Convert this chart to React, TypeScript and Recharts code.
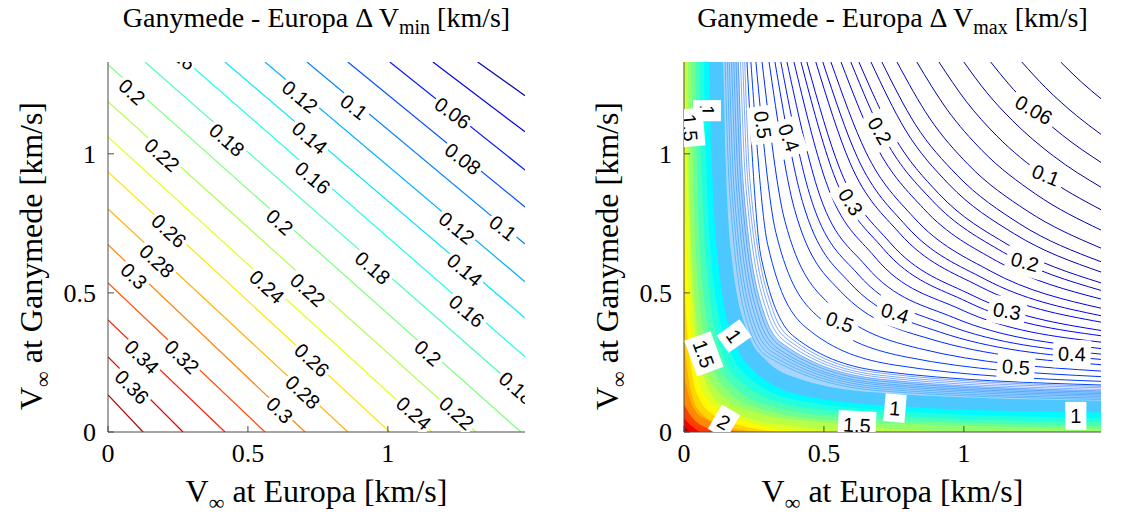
import React from 'react';
import { ComposedChart, XAxis, YAxis, Line, Area, Scatter } from 'recharts';

const X_MAX = 1.49;
const Y_MAX = 1.33;
const xTicks = [0, 0.5, 1];
const yTicks = [0, 0.5, 1];

// left panel (dV min): contour levels and where each one crosses the box
const minLevels = [0.02, 0.04, 0.06, 0.08, 0.1, 0.12, 0.14, 0.16, 0.18, 0.2, 0.22, 0.24, 0.26, 0.28, 0.3, 0.32, 0.34, 0.36, 0.38];
const minContours = [
  [[1.321, 1.33], [1.49, 1.209]],
  [[1.161, 1.33], [1.49, 1.079]],
  [[1.007, 1.33], [1.49, 0.942]],
  [[0.857, 1.33], [1.49, 0.809]],
  [[0.711, 1.33], [1.49, 0.676]],
  [[0.561, 1.33], [1.49, 0.54]],
  [[0.418, 1.33], [1.49, 0.41]],
  [[0.282, 1.33], [1.49, 0.27]],
  [[0.132, 1.33], [1.49, 0.133]],
  [[0, 1.32], [1.475, 0]],
  [[0, 1.187], [1.314, 0]],
  [[0, 1.061], [1.157, 0]],
  [[0, 0.935], [1.007, 0]],
  [[0, 0.802], [0.857, 0]],
  [[0, 0.673], [0.704, 0]],
  [[0, 0.536], [0.561, 0]],
  [[0, 0.403], [0.418, 0]],
  [[0, 0.27], [0.268, 0]],
  [[0, 0.133], [0.125, 0]],
];
const minLabels: [string, number, number, number][] = [
  ['0.2', 0.086, 1.223, 42], ['0.22', 0.193, 0.996, 42], ['0.18', 0.425, 1.05, 41],
  ['0.12', 0.686, 1.205, 39], ['0.1', 0.879, 1.169, 38], ['0.06', 1.232, 1.147, 36],
  ['0.14', 0.721, 1.058, 40], ['0.16', 0.732, 0.914, 40], ['0.08', 1.268, 0.982, 37],
  ['0.2', 0.614, 0.755, 41], ['0.26', 0.218, 0.723, 43], ['0.28', 0.175, 0.615, 43],
  ['0.3', 0.093, 0.561, 44], ['0.24', 0.568, 0.522, 42], ['0.22', 0.714, 0.511, 42],
  ['0.18', 0.946, 0.59, 41], ['0.12', 1.246, 0.734, 39], ['0.1', 1.411, 0.734, 38],
  ['0.14', 1.275, 0.583, 40], ['0.16', 1.282, 0.435, 40], ['0.2', 1.143, 0.284, 41],
  ['0.34', 0.121, 0.27, 45], ['0.32', 0.264, 0.27, 44], ['0.36', 0.086, 0.162, 45],
  ['0.26', 0.729, 0.259, 43], ['0.28', 0.696, 0.144, 43], ['0.3', 0.614, 0.079, 44],
  ['0.24', 1.093, 0.068, 42], ['0.22', 1.246, 0.068, 42], ['0.18', 1.46, 0.158, 41],
  ['0.16', 0.25, 1.36, 40],
];

// right panel (dV max): line contours, outermost first
const maxLevels = [
  0.02, 0.04, 0.06, 0.08, 0.1, 0.12, 0.14, 0.16, 0.18, 0.2, 0.22, 0.24, 0.26, 0.28, 0.3, 0.32, 0.34, 0.36,
  0.38, 0.4, 0.42, 0.44, 0.46, 0.48, 0.5, 0.52, 0.54, 0.56, 0.58, 0.6, 0.62, 0.64, 0.66, 0.68, 0.7, 0.72,
];
const maxContours = [
  [[1.346, 1.33], [1.365, 1.311], [1.421, 1.257], [1.49, 1.198]],
  [[1.207, 1.33], [1.292, 1.238], [1.403, 1.137], [1.49, 1.07]],
  [[1.096, 1.33], [1.16, 1.251], [1.229, 1.177], [1.352, 1.067], [1.49, 0.969]],
  [[1.0, 1.33], [1.082, 1.22], [1.173, 1.12], [1.32, 0.992], [1.49, 0.88]],
  [[0.911, 1.33], [1.008, 1.189], [1.118, 1.064], [1.288, 0.92], [1.49, 0.799]],
  [[0.832, 1.33], [0.94, 1.159], [1.065, 1.012], [1.257, 0.855], [1.49, 0.726]],
  [[0.761, 1.33], [0.877, 1.129], [1.015, 0.962], [1.226, 0.795], [1.49, 0.661]],
  [[0.707, 1.33], [0.827, 1.105], [0.976, 0.923], [1.2, 0.748], [1.49, 0.612]],
  [[0.668, 1.33], [0.791, 1.086], [0.945, 0.892], [1.181, 0.712], [1.49, 0.575]],
  [[0.625, 1.33], [0.75, 1.064], [0.91, 0.857], [1.158, 0.673], [1.49, 0.536]],
  [[0.596, 1.33], [0.721, 1.048], [0.886, 0.833], [1.141, 0.646], [1.49, 0.509]],
  [[0.561, 1.33], [0.687, 1.028], [0.856, 0.803], [1.12, 0.613], [1.49, 0.478]],
  [[0.525, 1.33], [0.65, 1.006], [0.822, 0.77], [1.096, 0.578], [1.49, 0.445]],
  [[0.496, 1.33], [0.62, 0.986], [0.794, 0.741], [1.076, 0.549], [1.49, 0.418]],
  [[0.471, 1.33], [0.593, 0.968], [0.769, 0.716], [1.057, 0.523], [1.49, 0.395]],
  [[0.439, 1.33], [0.558, 0.943], [0.735, 0.682], [1.033, 0.49], [1.49, 0.365]],
  [[0.418, 1.33], [0.535, 0.926], [0.712, 0.659], [1.014, 0.467], [1.49, 0.346]],
  [[0.393, 1.33], [0.506, 0.903], [0.682, 0.629], [0.99, 0.44], [1.49, 0.323]],
  [[0.368, 1.33], [0.476, 0.878], [0.65, 0.597], [0.964, 0.411], [1.49, 0.3]],
  [[0.346, 1.33], [0.449, 0.854], [0.621, 0.568], [0.939, 0.385], [1.49, 0.28]],
  [[0.325, 1.33], [0.423, 0.829], [0.591, 0.538], [0.912, 0.36], [1.49, 0.261]],
  [[0.304, 1.33], [0.395, 0.8], [0.559, 0.506], [0.881, 0.334], [1.49, 0.242]],
  [[0.279, 1.33], [0.36, 0.76], [0.516, 0.463], [0.841, 0.3], [1.49, 0.219]],
  [[0.257, 1.33], [0.328, 0.718], [0.473, 0.42], [0.797, 0.269], [1.49, 0.199]],
  [[0.239, 1.33], [0.299, 0.674], [0.432, 0.379], [0.751, 0.241], [1.49, 0.182]],
  [[0.225, 1.33], [0.275, 0.631], [0.394, 0.342], [0.707, 0.218], [1.49, 0.169]],
  [[0.217, 1.33], [0.236, 0.9], [0.319, 0.433], [0.385, 0.335], [0.7, 0.212], [1.49, 0.164]],
  [[0.21, 1.33], [0.228, 0.9], [0.309, 0.429], [0.376, 0.328], [0.7, 0.204], [1.49, 0.159]],
  [[0.202, 1.33], [0.22, 0.9], [0.299, 0.424], [0.367, 0.321], [0.7, 0.197], [1.49, 0.153]],
  [[0.194, 1.33], [0.211, 0.9], [0.288, 0.42], [0.357, 0.314], [0.7, 0.19], [1.49, 0.148]],
  [[0.186, 1.33], [0.203, 0.9], [0.278, 0.416], [0.347, 0.307], [0.7, 0.183], [1.49, 0.143]],
  [[0.178, 1.33], [0.194, 0.9], [0.267, 0.411], [0.337, 0.299], [0.7, 0.175], [1.49, 0.138]],
  [[0.17, 1.33], [0.186, 0.9], [0.257, 0.407], [0.328, 0.293], [0.7, 0.169], [1.49, 0.133]],
  [[0.162, 1.33], [0.177, 0.9], [0.246, 0.403], [0.318, 0.286], [0.7, 0.162], [1.49, 0.128]],
  [[0.155, 1.33], [0.169, 0.9], [0.237, 0.398], [0.309, 0.278], [0.7, 0.155], [1.49, 0.122]],
  [[0.147, 1.33], [0.161, 0.9], [0.226, 0.394], [0.299, 0.271], [0.7, 0.148], [1.49, 0.117]],
];

// right panel: contours packed against the axes, drawn as filled levels
const maxFillLevels = [0.7, 0.8, 1.0, 1.1, 1.2, 1.3, 1.4, 1.5, 1.6, 1.7, 1.8, 1.9, 2.0, 2.2, 2.4, 2.6];
const maxFills = [
  [[0, 1.33], [0.194, 1.33], [0.211, 0.9], [0.288, 0.42], [0.357, 0.314], [0.7, 0.19], [1.49, 0.148]],
  [[0, 1.33], [0.139, 1.33], [0.148, 1.0], [0.175, 0.59], [0.235, 0.34], [0.288, 0.263], [0.415, 0.19], [0.715, 0.14], [1.49, 0.112]],
  [[0, 1.33], [0.088, 1.33], [0.098, 1.0], [0.132, 0.53], [0.18, 0.33], [0.245, 0.225], [0.43, 0.13], [0.81, 0.09], [1.49, 0.07]],
  [[0, 1.33], [0.07, 1.33], [0.078, 1.0], [0.108, 0.524], [0.172, 0.274], [0.221, 0.206], [0.407, 0.114], [0.773, 0.075], [1.49, 0.05]],
  [[0, 1.33], [0.054, 1.33], [0.061, 1.0], [0.088, 0.518], [0.142, 0.268], [0.198, 0.185], [0.38, 0.098], [0.73, 0.06], [1.49, 0.035]],
  [[0, 1.33], [0.039, 1.33], [0.045, 1.0], [0.068, 0.512], [0.116, 0.262], [0.175, 0.167], [0.32, 0.09], [0.62, 0.05], [1.49, 0.022]],
  [[0, 1.33], [0.026, 1.33], [0.031, 1.0], [0.052, 0.506], [0.094, 0.256], [0.155, 0.151], [0.273, 0.084], [0.535, 0.042], [1.49, 0.013]],
  [[0, 1.33], [0.0135, 1.33], [0.018, 1.0], [0.036, 0.5], [0.072, 0.25], [0.134, 0.134], [0.257, 0.07], [0.514, 0.032], [0.95, 0]],
  [[0, 1.33], [0.004, 1.33], [0.012, 1.0], [0.028, 0.5], [0.058, 0.25], [0.115, 0.115], [0.23, 0.05], [0.4, 0.02], [0.58, 0]],
  [[0, 0.95], [0.012, 0.6], [0.03, 0.3], [0.06, 0.16], [0.1, 0.1], [0.2, 0.045], [0.42, 0]],
  [[0, 0.55], [0.012, 0.36], [0.03, 0.2], [0.06, 0.11], [0.1, 0.066], [0.2, 0.025], [0.33, 0]],
  [[0, 0.33], [0.015, 0.2], [0.035, 0.11], [0.06, 0.07], [0.1, 0.04], [0.16, 0.018], [0.26, 0]],
  [[0, 0.2], [0.02, 0.12], [0.045, 0.07], [0.08, 0.045], [0.12, 0.026], [0.2, 0]],
  [[0, 0.1], [0.02, 0.065], [0.045, 0.036], [0.08, 0.015], [0.11, 0]],
  [[0, 0.05], [0.015, 0.033], [0.035, 0.015], [0.055, 0]],
  [[0, 0.02], [0.01, 0.01], [0.022, 0]],
];
const maxLabels: [string, number, number, number][] = [
  ['0.06', 1.25, 1.158, 30], ['0.1', 1.293, 0.924, 22], ['0.2', 0.7, 1.083, 60],
  ['0.2', 1.218, 0.612, 15], ['0.3', 0.596, 0.827, 58], ['0.3', 1.154, 0.435, 10],
  ['0.4', 0.375, 1.058, 70], ['0.4', 0.754, 0.428, 18], ['0.4', 1.386, 0.281, 2],
  ['0.5', 0.282, 1.104, 82], ['0.5', 0.557, 0.396, 20], ['0.5', 1.186, 0.234, 4],
  ['1', 0.082, 1.155, 90], ['1', 0.179, 0.345, 55], ['1', 0.754, 0.086, 5],
  ['1', 1.4, 0.058, 0], ['1.5', 0.021, 1.094, 85], ['1.5', 0.071, 0.281, 70],
  ['1.5', 0.618, 0.025, 3], ['2', 0.143, 0.036, 30],
];

const BOX = '#4a4a4a';
const SERIF = "'Liberation Serif', 'Times New Roman', serif";
const SANS = "'Liberation Sans', Arial, sans-serif";

function jet(t: number) {
  const c = (v: number) => Math.max(0, Math.min(1, v));
  return [c(Math.min(4 * t - 1.5, -4 * t + 4.5)), c(Math.min(4 * t - 0.5, -4 * t + 3.5)), c(Math.min(4 * t + 0.5, -4 * t + 2.5))];
}
function rgb(v: number[], white = 0) {
  return `rgb(${v.map((c) => Math.round((c * (1 - white) + white) * 255)).join(',')})`;
}
const toPts = (pts: number[][]) => pts.map(([x, y]) => ({ x, y }));
const textW = (s: string) => [...s].reduce((a, ch) => a + (ch === '.' ? 0.278 : 0.556), 0);

function makeLabel(boxed: boolean) {
  return (props: any) => {
    const { cx, cy, payload } = props;
    if (cx == null || cy == null) return null;
    const fs = 20;
    const w = textW(payload.text) * fs + (boxed ? 10 : 5);
    const h = fs + (boxed ? 8 : 2);
    return (
      <g transform={`translate(${cx},${cy}) rotate(${payload.angle})`}>
        <rect x={-w / 2} y={-h / 2} width={w} height={h} fill="#fff" />
        <text x={0} y={0} dy="0.36em" textAnchor="middle" fontSize={fs} fontFamily={SANS} fill="#000">
          {payload.text}
        </text>
      </g>
    );
  };
}

type PanelProps = {
  width: number;
  right: number;
  lines: number[][][];
  lineColors: string[];
  lineWidths: number[];
  curve: 'linear' | 'monotone';
  fills: number[][][];
  fillColors: string[];
  labels: [string, number, number, number][];
  boxed: boolean;
};

function Panel({ width, right, lines, lineColors, lineWidths, curve, fills, fillColors, labels, boxed }: PanelProps) {
  const tickStyle = { fill: '#000', fontSize: 26, fontFamily: SERIF };
  const labelData = labels.map(([text, x, y, angle]) => ({ x, y, text, angle }));
  return (
    <ComposedChart width={width} height={523} margin={{ top: 62, right, bottom: 0, left: 0 }}>
      <XAxis type="number" dataKey="x" domain={[0, X_MAX]} ticks={xTicks} interval={0} allowDataOverflow
        height={91} tickSize={-6} tickMargin={18} stroke={BOX} tick={tickStyle} />
      <XAxis xAxisId="top" orientation="top" type="number" dataKey="x" domain={[0, X_MAX]} ticks={xTicks}
        interval={0} allowDataOverflow height={0} tickSize={-6} stroke={BOX} tick={false} />
      <YAxis type="number" domain={[0, Y_MAX]} ticks={yTicks} interval={0} allowDataOverflow
        width={108} tickSize={-6} tickMargin={18} stroke={BOX} tick={tickStyle} />
      <YAxis yAxisId="right" orientation="right" type="number" domain={[0, Y_MAX]} ticks={yTicks}
        interval={0} allowDataOverflow width={0} tickSize={-6} stroke={BOX} tick={false} />
      {fills.map((pts, i) => (
        <Area key={`f${i}`} data={toPts(pts)} dataKey="y" type="monotone" stroke="none"
          fill={fillColors[i]} fillOpacity={1} dot={false} activeDot={false} isAnimationActive={false} />
      ))}
      {lines.map((pts, i) => (
        <Line key={`l${i}`} data={toPts(pts)} dataKey="y" type={curve} stroke={lineColors[i]}
          strokeWidth={lineWidths[i]} dot={false} activeDot={false} isAnimationActive={false} />
      ))}
      <Scatter data={labelData} dataKey="y" shape={makeLabel(boxed)} isAnimationActive={false} />
    </ComposedChart>
  );
}

function Titles() {
  const title = (cx: number, s: string) => (
    <text x={cx} y={27} textAnchor="middle" fontSize={28} fontFamily={SERIF} fill="#000">
      Ganymede - Europa Δ V<tspan fontSize={20} dy={7}>{s}</tspan><tspan dy={-7}> [km/s]</tspan>
    </text>
  );
  const xlab = (cx: number) => (
    <text x={cx} y={502} textAnchor="middle" fontSize={32} fontFamily={SERIF} fill="#000">
      V<tspan fontSize={22} dy={8}>∞</tspan><tspan dy={-8}> at Europa [km/s]</tspan>
    </text>
  );
  const ylab = (x: number) => (
    <text transform={`translate(${x},256) rotate(-90)`} textAnchor="middle" fontSize={32} fontFamily={SERIF} fill="#000">
      V<tspan fontSize={22} dy={8}>∞</tspan><tspan dy={-8}> at Ganymede [km/s]</tspan>
    </text>
  );
  return (
    <svg width={1125} height={523} style={{ position: 'absolute', left: 0, top: 0, pointerEvents: 'none' }}>
      {title(316.5, 'min')}
      {title(892.5, 'max')}
      {xlab(316.5)}
      {xlab(892.5)}
      {ylab(42)}
      {ylab(618)}
    </svg>
  );
}

export default function App() {
  const minColors = minLevels.map((l) => rgb(jet(l / 0.4)));
  const minWidths = minLevels.map(() => 1.2);
  const maxColors = maxLevels.map((l) => rgb(jet(l / 2.7), l > 0.53 ? 0.15 : 0));
  const maxWidths = maxLevels.map((l) => (l > 0.53 ? 0.6 : 1));
  const fillColors = maxFillLevels.map((l) => rgb(jet(l / 2.7), l < 0.75 ? 0.65 : l < 0.9 ? 0.3 : 0));
  return (
    <div style={{ position: 'absolute', left: 0, top: 0, width: 1125, height: 523, background: '#fff', overflow: 'hidden' }}>
      <div style={{ position: 'absolute', left: 0, top: 0 }}>
        <Panel width={560} right={35} lines={minContours} lineColors={minColors} lineWidths={minWidths} curve="linear"
          fills={[]} fillColors={[]} labels={minLabels} boxed={false} />
      </div>
      <div style={{ position: 'absolute', left: 576, top: 0 }}>
        <Panel width={549} right={24} lines={maxContours} lineColors={maxColors} lineWidths={maxWidths} curve="monotone"
          fills={maxFills} fillColors={fillColors} labels={maxLabels} boxed />
      </div>
      <Titles />
    </div>
  );
}
